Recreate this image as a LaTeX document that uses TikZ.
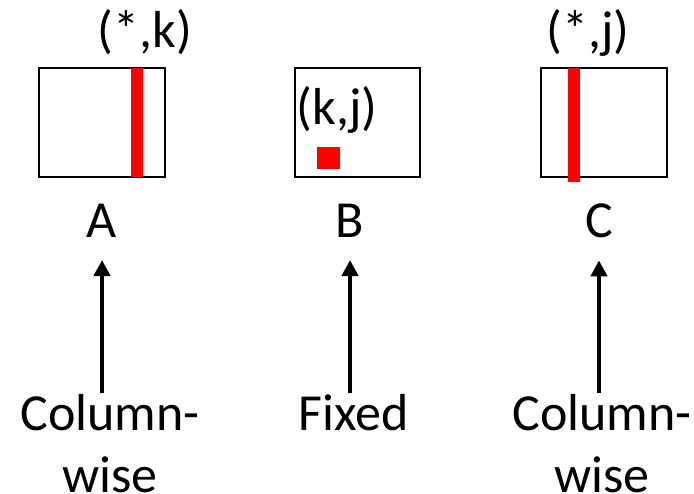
\documentclass[tikz,border=0pt]{standalone}
\usepackage{fontspec}
\setmainfont{Carlito}
\usetikzlibrary{arrows.meta}
\begin{document}
\begin{tikzpicture}[x=1bp,y=-1bp,line width=2bp,
lbl/.style={inner sep=0pt,anchor=base,align=center,font=\fontsize{52bp}{62bp}\selectfont},
arr/.style={line width=4bp,-{Triangle[width=16bp,length=16bp]},shorten >=21bp}]
\useasboundingbox(0,0)rectangle(694,494);
\draw(39,68)rectangle(165,177);\fill[red](131,68)rectangle(143,177);
\draw(295,68)rectangle(420,177);\fill[red](317,147)rectangle(340,169);
\draw(541,68)rectangle(667,177);\fill[red](568,68)rectangle(580,182);
\node[lbl](idxA)at(145,48){(*,k)};\node[lbl](idxB)at(337,125){(k,j)};
\node[lbl](idxC)at(588,48){(*,j)};
\node[lbl](matA)at(102,238){A};\node[lbl](matB)at(350,238){B};
\node[lbl](matC)at(599,238){C};
% base of a two-line node sits on its last line
\node[lbl](colA)at(110,492){Column-\\wise};\node[lbl](fixB)at(354,430){Fixed};
\node[lbl](colC)at(602,492){Column-\\wise};
\draw[arr](matA.south|-colA.north)--(matA.south);
\draw[arr](matB.south|-fixB.north)--(matB.south);
\draw[arr](matC.south|-colC.north)--(matC.south);
\end{tikzpicture}
\end{document}
